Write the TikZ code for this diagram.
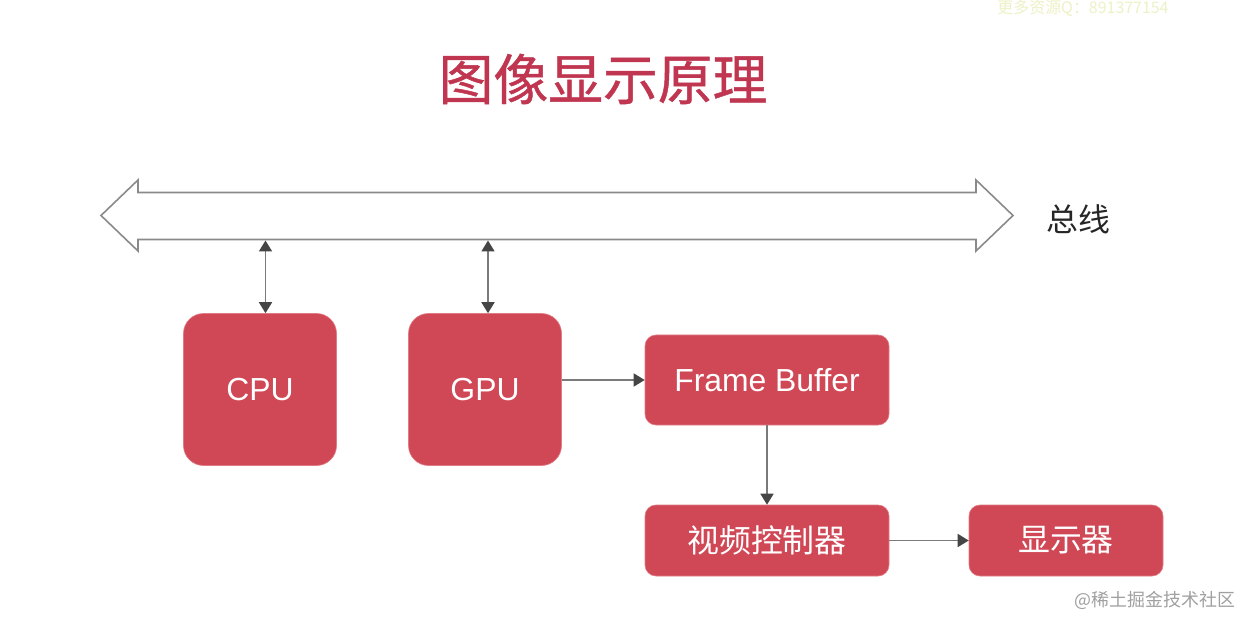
\documentclass[tikz,border=0pt]{standalone}
\usepackage{fontspec}
\setmainfont{Liberation Sans}
\newfontfamily\cjk{Noto Sans CJK SC}
\newfontfamily\cjkm[FakeBold=0.8]{Noto Sans CJK SC}
\usetikzlibrary{arrows.meta}
\definecolor{boxred}{HTML}{D04856}
\definecolor{boxedge}{HTML}{E07A84}
\definecolor{titlered}{HTML}{C0354F}
\definecolor{lineg}{HTML}{7A7A7A}
\definecolor{tipg}{HTML}{454545}
\definecolor{busg}{HTML}{8A8A8A}
\definecolor{wmgreen}{HTML}{EDF2C6}
\definecolor{wmgrey}{HTML}{A0A0A0}
\tikzset{
  bigbox/.style={draw=boxedge, line width=0.6bp, fill=boxred, rounded corners=20bp,
    text=white, inner sep=0pt, minimum width=153bp, minimum height=152bp,
    font=\fontsize{32}{38}\selectfont},
  smallbox/.style={draw=boxedge, line width=0.6bp, fill=boxred, rounded corners=11bp,
    text=white, inner sep=0pt, minimum height=71bp,
    font=\fontsize{32}{38}\selectfont},
  conn/.style={draw=lineg, line width=1.7bp,
    -{Triangle[length=11bp,width=13bp,color=tipg,fill=tipg]}},
  dconn/.style={draw=lineg, line width=1.7bp,
    {Triangle[length=11bp,width=13bp,color=tipg,fill=tipg]}-{Triangle[length=11bp,width=13bp,color=tipg,fill=tipg]}},
  busline/.style={draw=busg, line width=1.6bp, fill=white, line join=miter}
}
\begin{document}
\begin{tikzpicture}[x=1bp,y=-1bp]
\fill[white] (0,0) rectangle (1240,618);
\useasboundingbox (0,0) rectangle (1240,618);

% watermarks
\node[text=wmgreen, font=\cjk\fontsize{16}{18}\selectfont, anchor=center] (wm1) at (1083,8) {更多资源Q：891377154};
\node[text=wmgrey, font=\cjk\fontsize{18}{20}\selectfont, anchor=center] (wm2) at (1155,600) {@稀土掘金技术社区};

% title
\node[text=titlered, font=\cjkm\fontsize{55}{60}\selectfont] (title) at (603,79) {图像显示原理};

% bus
\draw[busline] (101,215.5) -- (138,180) -- (138,192.5) -- (976,192.5) -- (976,180)
  -- (1013,215.5) -- (976,251) -- (976,239.5) -- (138,239.5) -- (138,251) -- cycle;
\node[font=\cjk\fontsize{32}{36}\selectfont, text=black!85] (buslabel) at (1078,219) {总线};
\coordinate (busCPU) at (265.5,240.5);
\coordinate (busGPU) at (488,240.5);

% boxes
\node[bigbox] (cpu) at (260,389.5) {\raisebox{-1.5bp}{CPU}};
\node[bigbox] (gpu) at (485,389.5) {\raisebox{-1.5bp}{GPU}};
\node[smallbox, minimum width=244bp, minimum height=90bp] (fb) at (767,380) {\raisebox{-1.5bp}{Frame Buffer}};
\node[smallbox, minimum width=244bp, font=\cjk\fontsize{32}{38}\selectfont] (vc) at (767,540.5) {视频控制器};
\node[smallbox, minimum width=194bp, font=\cjk\fontsize{32}{38}\selectfont] (disp) at (1066,540.5) {显示器};

% connectors
\draw[dconn] (busCPU) -- (cpu.north -| busCPU);
\draw[dconn] (busGPU) -- (gpu.north -| busGPU);
\draw[conn] (gpu.east |- fb.west) -- (fb.west);
\draw[conn] (fb.south) -- (vc.north);
\draw[conn] (vc.east) -- (disp.west);
\end{tikzpicture}
\end{document}
